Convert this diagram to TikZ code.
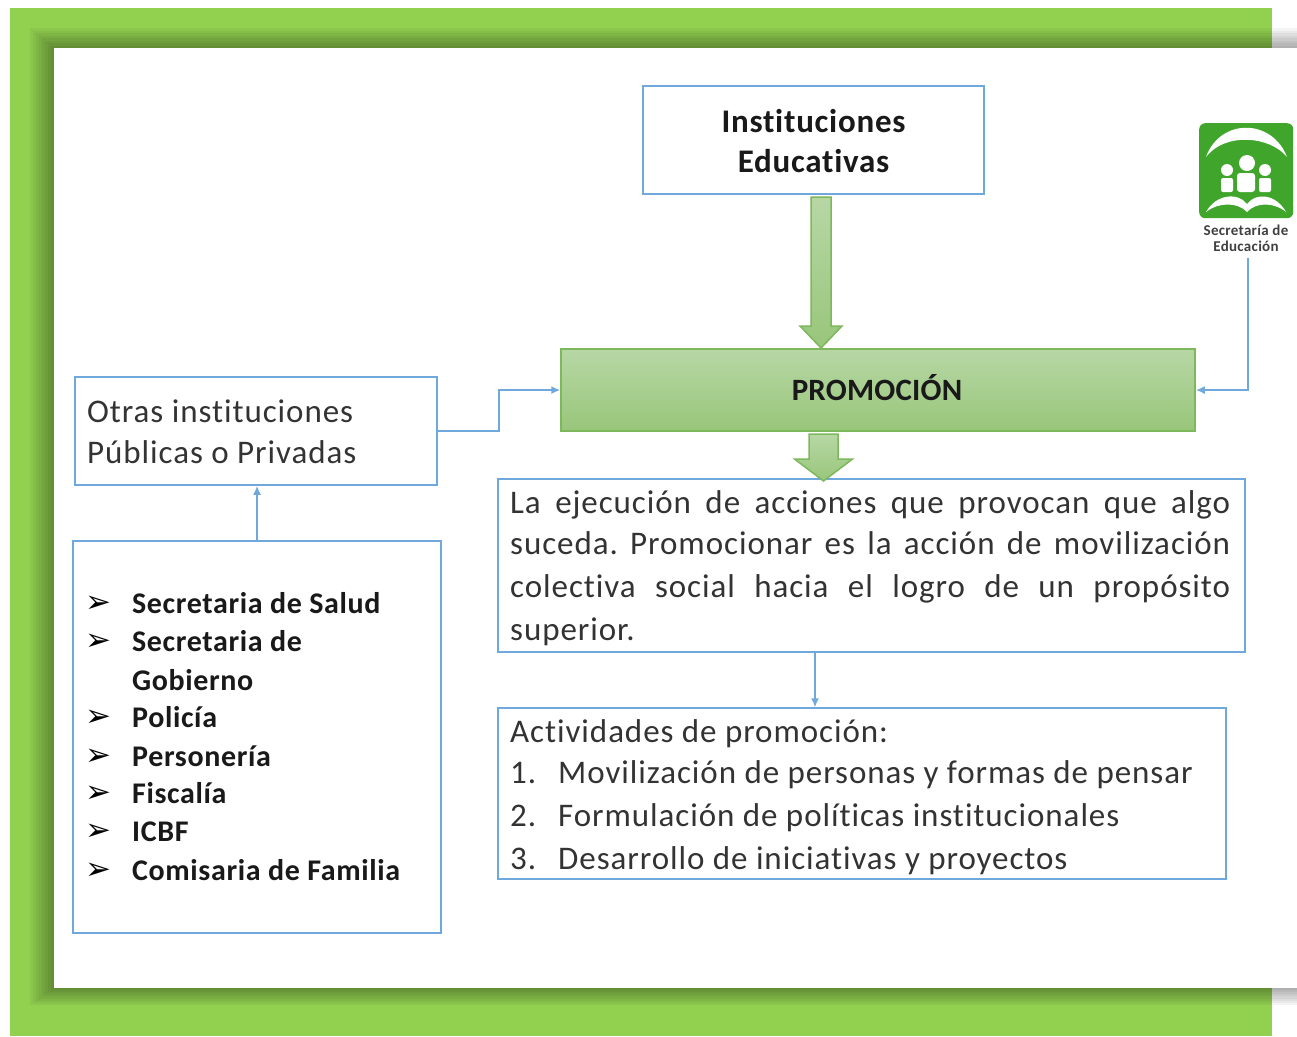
\documentclass[tikz,border=0pt]{standalone}
\usepackage{fontspec}
\setmainfont{Carlito}[Ligatures=CommonOff]
\newfontfamily\dejavu{DejaVu Sans}
\newfontfamily\bodyfont{Carlito}[Ligatures=CommonOff,LetterSpace=2.85]
\newfontfamily\strongfont{Carlito Bold}[Ligatures=CommonOff,LetterSpace=2.2]
\newfontfamily\itemfont{Carlito Bold}[Ligatures=CommonOff,LetterSpace=2.1]
\newfontfamily\logofont{Carlito Bold}[Ligatures=CommonOff,LetterSpace=2]
\newfontfamily\promofont{Carlito Bold}[Ligatures=CommonOff,LetterSpace=0.7]
\usetikzlibrary{calc,arrows.meta}
\definecolor{framegreen}{HTML}{92D050}
\definecolor{boxblue}{HTML}{6FA8DC}
\definecolor{logogreen}{HTML}{3FA62B}
\definecolor{arrowedge}{HTML}{7DB85C}
\definecolor{promotop}{HTML}{B7D7A5}
\definecolor{promobot}{HTML}{98C67A}
\frenchspacing
\tikzset{
  x=1pt,y=-1pt,
  bluebox/.style={draw=boxblue,line width=1.5pt,fill=white,inner sep=0pt,anchor=north west},
  promobox/.style={draw=arrowedge,line width=1.5pt,top color=promotop,bottom color=promobot,inner sep=0pt,anchor=north west},
  link/.style={draw=boxblue,line width=1.7pt,-{Latex[length=9pt,width=8pt]}},
  block/.style={draw=arrowedge,line width=1.5pt,top color=promotop,bottom color=promobot,line join=miter},
  body/.style={font=\fontsize{33}{40}\selectfont\bodyfont,text=black!80,inner sep=0pt,anchor=base west},
  strong/.style={font=\fontsize{33}{40}\selectfont\strongfont,text=black!90,inner sep=0pt,anchor=base},
  listitem/.style={font=\fontsize{30}{36}\selectfont\itemfont,text=black!90,inner sep=0pt,anchor=base west},
  listmark/.style={font=\fontsize{31}{36}\selectfont\dejavu,text=black,inner sep=0pt,anchor=base west},
  logotext/.style={font=\fontsize{15}{16}\selectfont\logofont,text=black!75,inner sep=0pt,anchor=base},
}
\begin{document}
\begin{tikzpicture}
\useasboundingbox (0,0) rectangle (1297,1036);
\clip (0,0) rectangle (1297,1036);
\fill[white] (0,0) rectangle (1297,1036);
\fill[framegreen] (10,8) rectangle (1272,1036);
\foreach \i in {8,7,...,1}
  \fill[black,opacity=0.045] ({54-3*\i},{48-2.5*\i}) rectangle (1400,{988+2.1*\i});
\fill[white] (54,48) rectangle (1400,988);

% boxes
\node[bluebox,minimum width=341pt,minimum height=108pt] (inst) at (642.3,85.3) {};
\node[promobox,minimum width=634pt,minimum height=82pt] (promo) at (560.3,348.3) {};
\node[bluebox,minimum width=362pt,minimum height=108pt] (otras) at (74.3,376.3) {};
\node[bluebox,minimum width=368pt,minimum height=392pt] (lista) at (72.3,540.3) {};
\node[bluebox,minimum width=747pt,minimum height=173pt] (para) at (497.3,478.3) {};
\node[bluebox,minimum width=728pt,minimum height=171pt] (acts) at (497.3,707.3) {};

% block arrows
\coordinate (aone) at (821,197);
\coordinate (aonetip) at (821,348);
\draw[block] ($(aone)+(-10,0)$) -- ($(aone)+(10,0)$) -- ($(aonetip)+(10,-22)$) -- ($(aonetip)+(21,-22)$) -- (aonetip)
  -- ($(aonetip)+(-21,-22)$) -- ($(aonetip)+(-10,-22)$) -- cycle;
\coordinate (atwo) at (823.5,434);
\coordinate (atwotip) at (823.5,481);
\draw[block] ($(atwo)+(-14.5,0)$) -- ($(atwo)+(14.5,0)$) -- ($(atwotip)+(14.5,-22)$) -- ($(atwotip)+(29,-22)$) -- (atwotip)
  -- ($(atwotip)+(-29,-22)$) -- ($(atwotip)+(-14.5,-22)$) -- cycle;

% texts
\node[strong] (t1) at (813.5,132) {Instituciones};
\node[strong] (t2) at (813.5,172) {Educativas};
\node[strong,font=\fontsize{31}{36}\selectfont\promofont] (t3) at (877,400) {PROMOCIÓN};
\node[body] (o1) at (87,422) {Otras instituciones};
\node[body] (o2) at (87,463) {Públicas o Privadas};
\node[body] (p1) at (510,513) {\makebox[720pt][s]{La ejecución de acciones que provocan que algo}};
\node[body] (p2) at (510,554) {\makebox[720pt][s]{suceda. Promocionar es la acción de movilización}};
\node[body] (p3) at (510,597) {\makebox[720pt][s]{colectiva social hacia el logro de un propósito}};
\node[body] (p4) at (510,640) {superior.};
\node[body] (a0) at (510,742) {Actividades de promoción:};
\node[body] (a1n) at (510,783) {1.};
\node[body] (a1) at (558,783) {Movilización de personas y formas de pensar};
\node[body] (a2n) at (510,826) {2.};
\node[body] (a2) at (558,826) {Formulación de políticas institucionales};
\node[body] (a3n) at (510,869) {3.};
\node[body] (a3) at (558,869) {Desarrollo de iniciativas y proyectos};

% list
\foreach \n/\y in {a/612,b/650,d/726,e/765,f/802,g/840,h/879}
  \node[listmark] (m\n) at (85,\y) {➢};
\node[listitem] (la) at (132,613) {Secretaria de Salud};
\node[listitem] (lb) at (132,651) {Secretaria de};
\node[listitem] (lc) at (132,690) {Gobierno};
\node[listitem] (ld) at (132,727) {Policía};
\node[listitem] (le) at (132,766) {Personería};
\node[listitem] (lf) at (132,803) {Fiscalía};
\node[listitem] (lg) at (132,841) {ICBF};
\node[listitem] (lh) at (132,880) {Comisaria de Familia};

% logo
\node[fill=logogreen,rounded corners=6pt,minimum width=94pt,minimum height=95pt,inner sep=0pt,anchor=north west] (logo) at (1199,123) {};
\fill[white] (1206,157) .. controls (1220,118) and (1272,118) .. (1287,157)
  .. controls (1270,136) and (1225,132) .. cycle;
\fill[white] (1247,163) circle (8);
\fill[white] (1227,170) circle (6);
\fill[white] (1265,170) circle (6);
\fill[white,rounded corners=3pt] (1237,173) rectangle (1255,192);
\fill[white,rounded corners=2pt] (1221,178) rectangle (1233,192);
\fill[white,rounded corners=2pt] (1259,178) rectangle (1271,192);
\fill[white] (1206,212) .. controls (1216,194) and (1238,192) .. (1247,204)
  .. controls (1256,192) and (1276,194) .. (1286,212)
  .. controls (1274,202) and (1256,202) .. (1247,212)
  .. controls (1238,202) and (1218,202) .. cycle;
\node[logotext] (l1) at (1246,235) {Secretaría de};
\node[logotext] (l2) at (1246,251) {Educación};

% connectors
\coordinate (logofoot) at (1248,258);
\coordinate (elbow) at (499,0);
\coordinate (parafoot) at (815,0);
\draw[link] (logofoot) |- (promo.east);
\draw[link] (otras.east) -| (elbow |- promo.west) -- (promo.west);
\draw[link] (lista.north) -- (otras.south -| lista.north);
\draw[link] (para.south -| parafoot) -- (acts.north -| parafoot);
\end{tikzpicture}
\end{document}
